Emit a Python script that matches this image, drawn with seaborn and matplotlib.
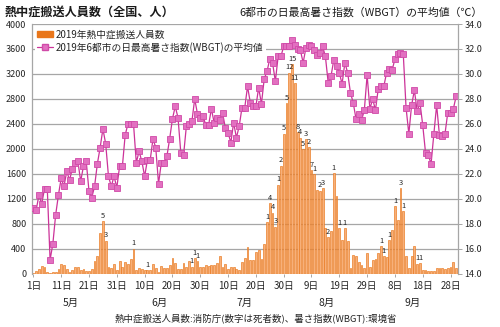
import matplotlib
matplotlib.use("Agg")
import matplotlib.pyplot as plt
import seaborn as sns
import pandas as pd
from matplotlib.patches import Patch
from matplotlib.lines import Line2D
from matplotlib.transforms import blended_transform_factory

sns.set_style("white")
plt.rcParams['font.family'] = ['Noto Sans CJK JP', 'DejaVu Sans']

# ---- data (May 1 - Sep 30, 2019) ----
transport = [15, 40, 75, 117, 107, 32, 10, 20, 20, 75,
             150, 133, 75, 27, 59, 101, 112, 59, 80, 43,
             43, 70, 203, 283, 651, 843, 528, 112, 85, 155,
             64, 208, 112, 181, 160, 235, 400, 64, 96, 80,
             53, 60, 59, 155, 90, 20, 125, 90, 88, 139,
             245, 165, 75, 75, 165, 112, 208, 112, 250, 205,
             100, 100, 139, 128, 139, 139, 165, 283, 112, 155,
             75, 112, 112, 75, 59, 192, 245, 421, 220, 220,
             345, 375, 232, 478, 827, 1125, 978, 755, 1427, 1733,
             2243, 2738, 3220, 3360, 3048, 2270, 2180, 1990, 2160, 2030,
             1660, 1600, 1340, 1330, 1370, 730, 580, 690, 1610, 1245,
             730, 545, 735, 520, 90, 300, 280, 195, 133, 96,
             338, 104, 227, 243, 328, 445, 285, 264, 541, 700,
             1085, 856, 1373, 1002, 285, 96, 285, 440, 163, 168,
             64, 64, 50, 40, 40, 91, 91, 91, 75, 91,
             112, 192, 96]

wbgt = [19.3, 19.1, 20.3, 19.6, 20.8, 20.8, 15.1, 16.4, 18.7, 20.3,
        21.65, 21.0, 22.2, 21.5, 22.4, 22.9, 23.0, 21.4, 22.6, 23.0,
        20.6, 20.1, 21.0, 22.8, 24.1, 25.6, 24.4, 21.8, 21.0, 21.8,
        20.9, 22.6, 22.6, 25.1, 26.0, 26.0, 26.0, 22.9, 23.8, 23.0,
        21.8, 23.1, 23.1, 24.8, 24.1, 21.2, 22.9, 22.9, 23.4, 24.8,
        26.4, 27.4, 26.5, 23.7, 23.5, 25.8, 26.0, 26.2, 28.0, 26.8,
        26.5, 26.6, 25.9, 25.9, 27.2, 26.1, 26.5, 26.3, 26.9, 25.7,
        25.3, 24.5, 26.1, 24.9, 25.8, 27.3, 27.3, 29.0, 27.7, 27.4,
        27.4, 28.9, 27.6, 29.6, 30.2, 31.2, 30.9, 29.4, 31.4, 31.4,
        32.2, 32.2, 32.2, 32.7, 32.3, 32.0, 31.9, 30.9, 32.1, 32.3,
        32.2, 31.9, 31.5, 31.7, 32.2, 31.4, 29.3, 29.8, 31.1, 30.6,
        30.1, 29.2, 30.9, 30.1, 28.5, 27.7, 26.4, 26.8, 26.3, 27.1,
        29.9, 27.2, 28.0, 27.1, 28.8, 29.0, 29.0, 30.1, 30.4, 30.3,
        31.2, 31.6, 31.7, 31.6, 27.3, 25.2, 27.5, 28.7, 27.0, 27.7,
        25.9, 23.7, 23.5, 22.8, 25.2, 27.5, 25.1, 25.0, 25.2, 26.9,
        26.9, 27.2, 28.2]

days = list(range(len(transport)))

death_days = [25, 26, 36, 41, 57, 58, 59, 84, 85, 86, 87, 88, 89, 90, 91, 92,
              93, 94, 95, 96, 97, 98, 99, 100, 101, 103, 104, 106, 108, 110,
              112, 125, 126, 128, 130, 132, 133, 138, 139]
death_counts = [5, 3, 1, 1, 1, 1, 1, 1, 4, 4, 3, 1, 2, 5, 5, 12,
                15, 11, 8, 4, 5, 3, 2, 7, 1, 2, 3, 2, 1, 1,
                1, 1, 1, 1, 1, 3, 1, 1, 1]

tick_days = [0, 10, 20, 30, 40, 50, 60, 70, 80, 90, 100, 110, 120, 130, 140, 150]
tick_labels = ['1日', '11日', '21日', '31日', '10日', '20日', '30日', '10日',
               '20日', '30日', '9日', '19日', '29日', '8日', '18日', '28日']
month_labels = ['5月', '6月', '7月', '8月', '9月']
month_pos = [13.5, 45.5, 76, 105.5, 136.5]

df = pd.DataFrame({'day': days, 'transport': transport, 'wbgt': wbgt})

bar_face = '#F7B07A'
bar_edge = '#E9761A'
line_col = '#CC3399'
mark_face = '#E270C0'
grid_col = '#A6A6A6'
txt_col = '#262626'

fig = plt.figure(figsize=(5.0, 3.27), dpi=100)
ax = fig.add_axes([0.064, 0.163, 0.851, 0.7636])

sns.barplot(data=df, x='day', y='transport', ax=ax, color=bar_face,
            edgecolor=bar_edge, linewidth=0.45, width=0.66, saturation=1,
            errorbar=None)

ax.set_xlim(-0.5, len(days) - 0.5)
ax.set_ylim(0, 4000)
ax.set_yticks(range(0, 4001, 400))
ax.set_yticklabels([str(v) for v in range(0, 4001, 400)], fontsize=6.5, color=txt_col)
ax.yaxis.grid(True, color=grid_col, linewidth=0.9)
ax.xaxis.grid(False)
ax.set_axisbelow(True)
ax.set_xlabel('')
ax.set_ylabel('')
ax.set_xticks(tick_days)
ax.set_xticklabels(tick_labels, fontsize=7, color=txt_col)
ax.tick_params(axis='x', length=2.5, width=0.7, color=grid_col, pad=2.5, direction='out', bottom=True)
ax.tick_params(axis='y', length=0, pad=4)
for s in ['top', 'right', 'bottom']:
    ax.spines[s].set_visible(False)
ax.spines['left'].set_color(grid_col)
ax.spines['left'].set_linewidth(0.9)

# death counts
for d, n in zip(death_days, death_counts):
    ax.text(d, transport[d] + 20, str(n), ha='center', va='bottom',
            fontsize=5.4, color=txt_col)

# month labels
tr = blended_transform_factory(ax.transData, ax.transAxes)
for m, p in zip(month_labels, month_pos):
    ax.text(p, -0.118, m, transform=tr, ha='center', va='center', fontsize=7.5, color=txt_col)

ax2 = ax.twinx()
sns.lineplot(data=df, x='day', y='wbgt', ax=ax2, color=line_col, linewidth=0.9,
             marker='s', markersize=4.6, markerfacecolor=mark_face,
             markeredgecolor='#D04AA8', markeredgewidth=0.6)
ax2.set_ylim(14, 34)
ax2.set_yticks([14 + 2 * i for i in range(11)])
ax2.set_yticklabels([f'{14 + 2 * i:.1f}' for i in range(11)], fontsize=6.5, color=txt_col)
ax2.set_xlim(-0.5, len(days) - 0.5)
ax2.set_ylabel('')
ax2.set_xlabel('')
ax2.tick_params(axis='y', length=3, width=0.7, color=grid_col, pad=2)
for s in ['top', 'left', 'bottom']:
    ax2.spines[s].set_visible(False)
ax2.spines['right'].set_color(grid_col)
ax2.spines['right'].set_linewidth(0.9)

handles = [Patch(facecolor=bar_edge, edgecolor=bar_edge),
           Line2D([0], [0], color=line_col, lw=0.9, marker='s', markersize=4.6,
                  markerfacecolor=mark_face, markeredgecolor='#D04AA8')]
labels = ['2019年熱中症搬送人員数', '2019年6都市の日最高暑さ指数(WBGT)の平均値']
leg = ax2.legend(handles, labels, loc='upper left', bbox_to_anchor=(0.0, 1.0),
                 fontsize=7, frameon=True, facecolor='white', edgecolor='none',
                 framealpha=1, borderpad=0.25, labelspacing=0.25, handlelength=1.6,
                 handletextpad=0.3, borderaxespad=0.3)
for t in leg.get_texts():
    t.set_color(txt_col)

fig.text(0.01, 0.963, '熱中症搬送人員数（全国、人）', fontsize=8.7, fontweight='bold',
         ha='left', va='center', color='#1a1a1a')
fig.text(0.966, 0.963, '6都市の日最高暑さ指数（WBGT）の平均値（℃）', fontsize=7.8,
         ha='right', va='center', color='#1a1a1a')
fig.text(0.512, 0.028, '熱中症搬送人員数:消防庁(数字は死者数)、暑さ指数(WBGT):環境省',
         fontsize=6.8, ha='center', va='center', color=txt_col)

fig.savefig('out.png', dpi=100)
